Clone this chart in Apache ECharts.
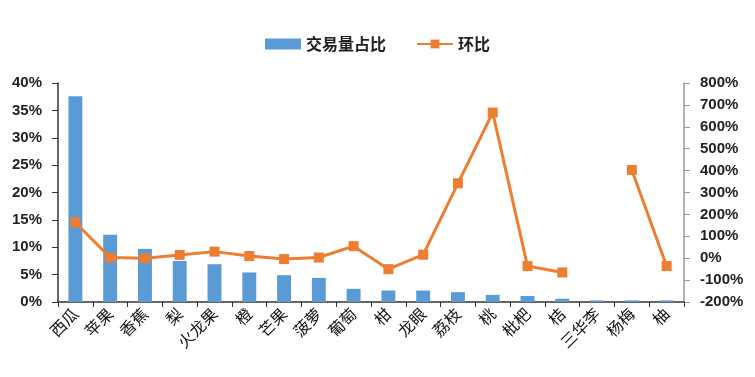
<!DOCTYPE html>
<html>
<head>
<meta charset="utf-8">
<script src="https://cdn.jsdelivr.net/npm/echarts@6/dist/echarts.min.js"></script>
<style>
  html, body { margin: 0; padding: 0; background: #fff; }
  #chart { width: 755px; height: 377px; }
</style>
</head>
<body>
<div id="chart"></div>
<script>
// 品类
var categories = ['西瓜', '苹果', '香蕉', '梨', '火龙果', '橙', '芒果', '菠萝', '葡萄', '柑', '龙眼', '荔枝', '桃', '枇杷', '桔', '三华李', '杨梅', '柚'];
// 交易量占比 (%)
var shareValues = [37.6, 12.3, 9.7, 7.5, 6.9, 5.4, 4.9, 4.4, 2.4, 2.1, 2.1, 1.8, 1.3, 1.1, 0.6, 0.3, 0.3, 0.3];
// 环比 (%)
var momValues = [163, 3, 0, 15, 30, 10, -4, 3, 55, -50, 16, 342, 665, -36, -65, null, 403, -36];

var FONT = '"Noto Sans CJK SC", "Noto Sans", sans-serif';
var NUM_FONT = '"Liberation Sans", Arial, sans-serif';

var chart = echarts.init(document.getElementById('chart'));
chart.setOption({
  animation: false,
  backgroundColor: '#fff',
  legend: {
    top: 31,
    left: 'center',
    itemGap: 30,
    itemWidth: 36,
    itemHeight: 11,
    textStyle: { fontFamily: FONT, fontSize: 16, fontWeight: 'bold', color: '#222' },
    data: [
      { name: '交易量占比', icon: 'rect' },
      { name: '环比' }
    ]
  },
  grid: { left: 58, right: 71, top: 83, bottom: 75 },
  xAxis: {
    type: 'category',
    data: categories,
    boundaryGap: true,
    axisLine: { lineStyle: { color: '#333', width: 1.5 } },
    axisTick: { show: true, alignWithLabel: false, length: 5, lineStyle: { color: '#333' } },
    axisLabel: {
      interval: 0,
      rotate: 45,
      margin: 9,
      fontFamily: FONT,
      fontSize: 16,
      color: '#111'
    }
  },
  yAxis: [{
    type: 'value',
    min: 0,
    max: 40,
    interval: 5,
    axisLine: { show: true, lineStyle: { color: '#333', width: 1.5 } },
    axisTick: { show: true, length: 6, lineStyle: { color: '#333' } },
    splitLine: { show: false },
    axisLabel: {
      formatter: '{value}%',
      fontFamily: NUM_FONT,
      fontSize: 15,
      fontWeight: 'bold',
      color: '#222',
      margin: 16
    }
  }, {
    type: 'value',
    min: -200,
    max: 800,
    interval: 100,
    position: 'right',
    axisLine: { show: true, lineStyle: { color: '#999', width: 1.5 } },
    axisTick: { show: true, length: 6, lineStyle: { color: '#999' } },
    splitLine: { show: false },
    axisLabel: {
      formatter: '{value}%',
      fontFamily: NUM_FONT,
      fontSize: 15,
      fontWeight: 'bold',
      color: '#222',
      margin: 16
    }
  }],
  series: [{
    name: '交易量占比',
    type: 'bar',
    data: shareValues,
    barWidth: '40%',
    itemStyle: { color: '#5B9BD5' }
  }, {
    name: '环比',
    type: 'line',
    yAxisIndex: 1,
    data: momValues,
    connectNulls: false,
    symbol: 'rect',
    symbolSize: 10,
    lineStyle: { color: '#ED7D31', width: 3 },
    itemStyle: { color: '#ED7D31' }
  }]
});
</script>
</body>
</html>
